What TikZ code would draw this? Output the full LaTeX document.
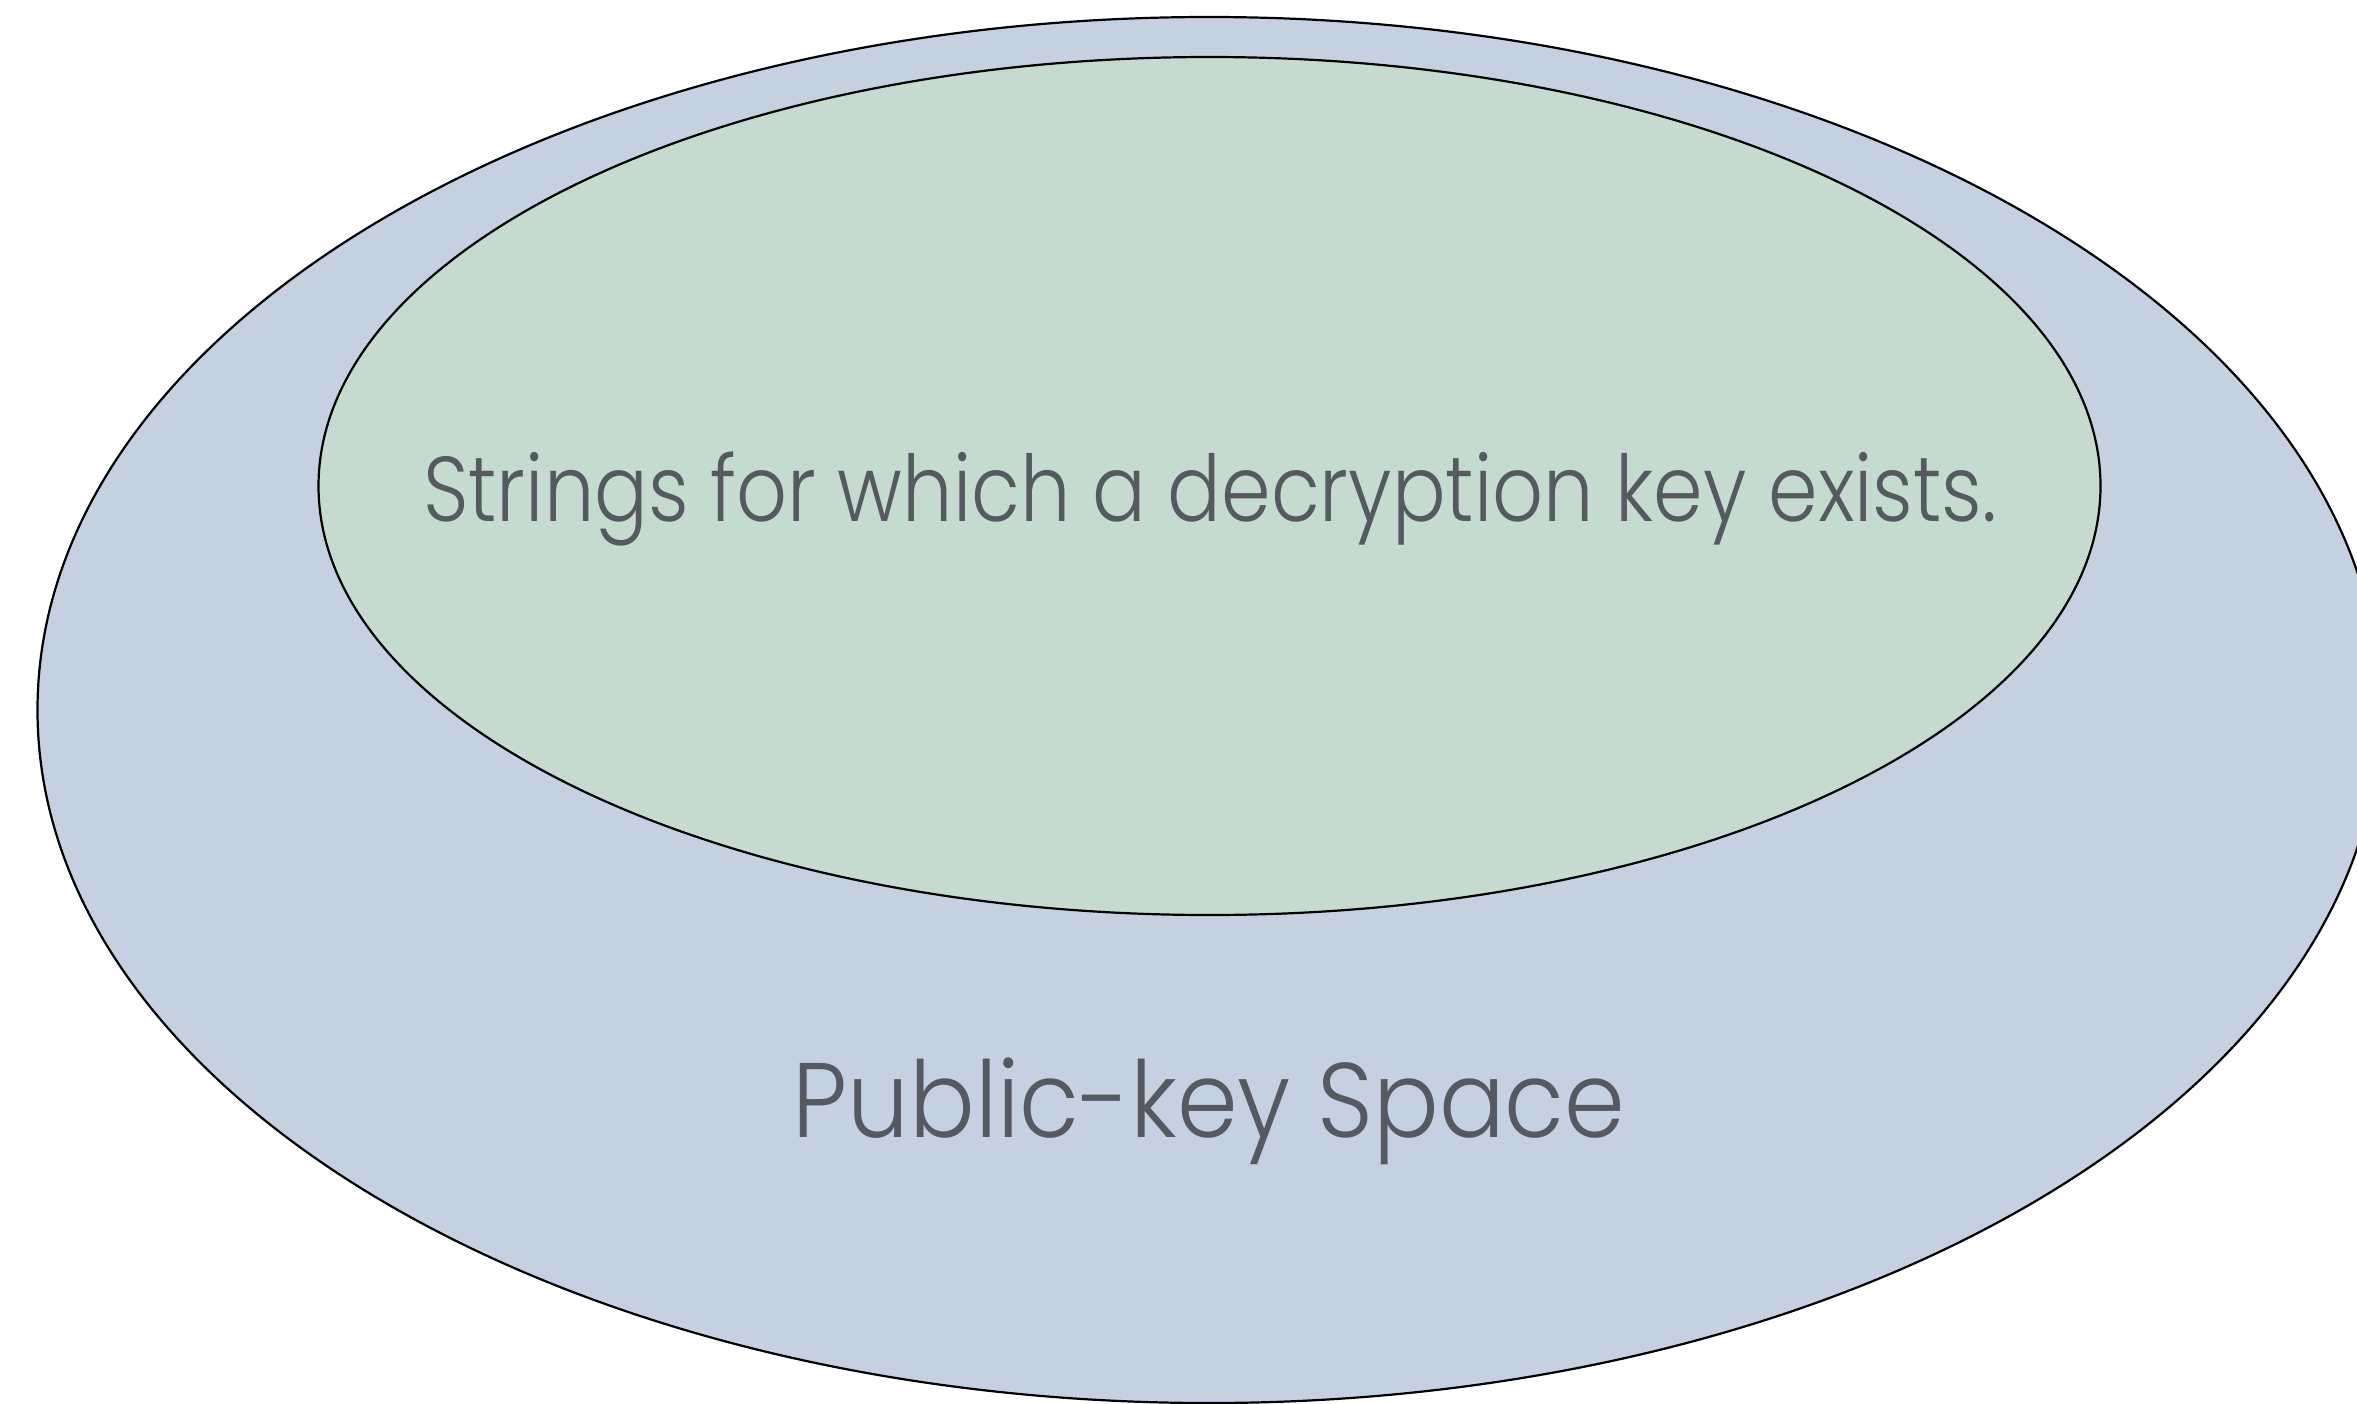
\documentclass[tikz,border=0pt]{standalone}
\usepackage{fontspec}
\usetikzlibrary{shapes.geometric}
\newfontfamily\innerfont{Poppins Light}[FakeStretch=0.865]
\newfontfamily\outerfont{Poppins Light}[FakeStretch=0.92]
\definecolor{spacefill}{HTML}{C5D1E1}
\definecolor{keyfill}{HTML}{C6DBD0}
\definecolor{labelgray}{HTML}{555A60}
\begin{document}
\begin{tikzpicture}[x=1pt,y=-1pt,
  region/.style={ellipse, draw=black, line width=2.2pt, inner sep=0pt},
  regionlabel/.style={anchor=base, inner sep=0pt, text=labelgray}]
\useasboundingbox (0,0) rectangle (2357,1403);
\clip (0,0) rectangle (2357,1403);
% outer set: the whole public-key space
\node[region, fill=spacefill, minimum width=2343pt, minimum height=1386pt] (space) at (1209,710) {};
% inner set: strings with a decryption key
\node[region, fill=keyfill, minimum width=1782pt, minimum height=858pt] (keys) at (1209.5,486) {};
\node[regionlabel, font=\innerfont\fontsize{92}{100}\selectfont] (keylabel) at (1210,521) {Strings for which a decryption key exists.};
\node[regionlabel, font=\outerfont\fontsize{106}{120}\selectfont] (spacelabel) at (1209,1137) {Public-key Space};
\end{tikzpicture}
\end{document}
